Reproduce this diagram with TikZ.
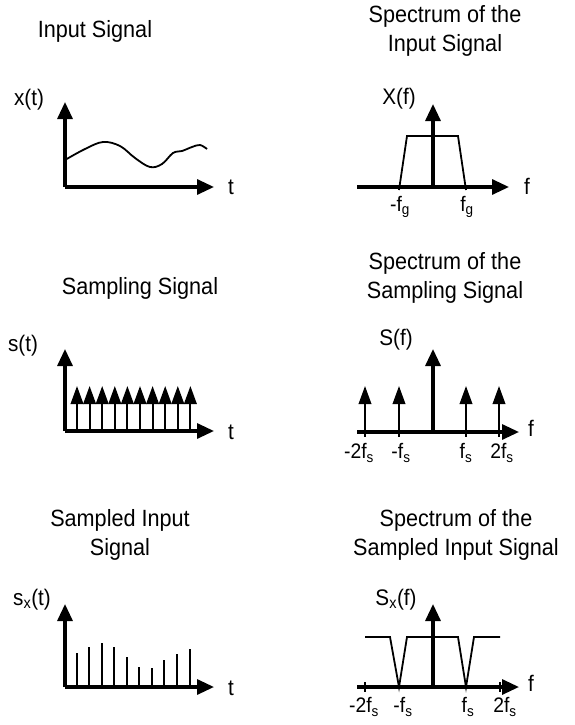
\documentclass[tikz,border=0pt]{standalone}
\usepackage{fontspec}
\setmainfont[FakeStretch=0.92]{Liberation Sans}
\usetikzlibrary{arrows.meta}
\begin{document}
\begin{tikzpicture}[x=1pt,y=-1pt,
  axis/.style={line width=3.2pt,-{Triangle[length=17pt,width=15pt]}},
  impulse/.style={line width=2pt,-{Triangle[length=18pt,width=12.5pt]}},
  stem/.style={line width=2.2pt},
  curve/.style={line width=1.8pt},
  title/.style={font=\fontsize{23.5}{29}\selectfont,align=center,inner sep=0pt},
  lbl/.style={font=\fontsize{22.5}{24}\selectfont,inner sep=0pt},
  tlbl/.style={font=\fontsize{21}{22}\selectfont,inner sep=0pt}]
\useasboundingbox (0,0) rectangle (575,725);

% ---------- titles ----------
\node[title] (t1) at (95,31) {Input Signal};
\node[title] (t2) at (445,31) {Spectrum of the\\Input Signal};
\node[title] (t3) at (140,288) {Sampling Signal};
\node[title] (t4) at (445,278) {Spectrum of the\\Sampling Signal};
\node[title] (t5) at (120,535) {Sampled Input\\Signal};
\node[title] (t6) at (456,535) {Spectrum of the\\Sampled Input Signal};

% ---------- panel 1: x(t) ----------
\coordinate (o1) at (65,187);
\coordinate (y1) at (65,102);
\coordinate (x1) at (214,187);
\draw[axis] (o1) -- (y1);
\draw[axis] (o1) -- (x1);
\node[lbl] (lx1) at (29,100) {x(t)};
\node[lbl] (lt1) at (231,187) {t};
\draw[curve] plot[smooth,tension=0.6] coordinates {(65,160) (85,149) (103,142) (120,146) (135,158) (150,167) (162,164) (173,153) (182,151) (192,147) (200,145) (207,149)};

% ---------- panel 2: X(f) ----------
\coordinate (o2) at (357,187);
\coordinate (x2) at (509,187);
\coordinate (b2) at (433,187);
\coordinate (y2) at (433,104);
\draw[axis] (o2) -- (x2);
\draw[axis] (b2) -- (y2);
\draw[curve] (399,190) -- (407,136) -- (458,136) -- (466,190);
\node[lbl] (lx2) at (399,99) {X(f)};
\node[lbl] (lf2) at (527,186) {f};
\node[tlbl] (g1) at (400,207) {-f\textsubscript{g}};
\node[tlbl] (g2) at (467,207) {f\textsubscript{g}};

% ---------- panel 3: s(t) ----------
\coordinate (o3) at (65,431);
\coordinate (y3) at (65,349);
\coordinate (x3) at (214,431);
\draw[axis] (o3) -- (y3);
\draw[axis] (o3) -- (x3);
\foreach \i in {0,...,9} {
  \draw[impulse] ({77+12.6*\i},431) -- ({77+12.6*\i},386);
}
\node[lbl] (ls3) at (23,346) {s(t)};
\node[lbl] (lt3) at (231,432) {t};

% ---------- panel 4: S(f) ----------
\coordinate (o4) at (357,432);
\coordinate (x4) at (519,432);
\coordinate (b4) at (433,432);
\coordinate (y4) at (433,349);
\draw[axis] (o4) -- (x4);
\draw[axis] (b4) -- (y4);
\foreach \x in {365,399,466,499} {
  \draw[impulse] (\x,432) -- (\x,386);
  \draw[stem] (\x,428) -- (\x,437);
}
\node[lbl] (ls4) at (396,340) {S(f)};
\node[lbl] (lf4) at (531,428) {f};
\node[tlbl] (s1) at (359,453) {-2f\textsubscript{s}};
\node[tlbl] (s2) at (401,453) {-f\textsubscript{s}};
\node[tlbl] (s3) at (466,453) {f\textsubscript{s}};
\node[tlbl] (s4) at (502,453) {2f\textsubscript{s}};

% ---------- panel 5: s_x(t) ----------
\coordinate (o5) at (65,687);
\coordinate (y5) at (65,604);
\coordinate (x5) at (214,687);
\draw[axis] (o5) -- (y5);
\draw[axis] (o5) -- (x5);
\foreach \x/\h in {77/653,89/647,102/643,114/647,127/657,139/667,152/668,164/660,177/654,190/649} {
  \draw[stem] (\x,687) -- (\x,\h);
}
\node[lbl] (ls5) at (32,600) {s\textsubscript{x}(t)};
\node[lbl] (lt5) at (231,688) {t};

% ---------- panel 6: S_x(f) ----------
\coordinate (o6) at (357,687);
\coordinate (x6) at (519,687);
\coordinate (b6) at (433,687);
\coordinate (y6) at (433,604);
\draw[axis] (o6) -- (x6);
\draw[axis] (b6) -- (y6);
\draw[curve] (365,637) -- (390,637) -- (399,687) -- (407,637) -- (458,637) -- (466,687) -- (474,637) -- (500,637);
\draw[stem] (365,682) -- (365,692);
\draw[stem] (500,682) -- (500,692);
\node[lbl] (ls6) at (396,600) {S\textsubscript{x}(f)};
\node[lbl] (lf6) at (531,683) {f};
\node[tlbl] (q1) at (364,707) {-2f\textsubscript{s}};
\node[tlbl] (q2) at (403,707) {-f\textsubscript{s}};
\node[tlbl] (q3) at (468,707) {f\textsubscript{s}};
\node[tlbl] (q4) at (505,707) {2f\textsubscript{s}};
\end{tikzpicture}
\end{document}
